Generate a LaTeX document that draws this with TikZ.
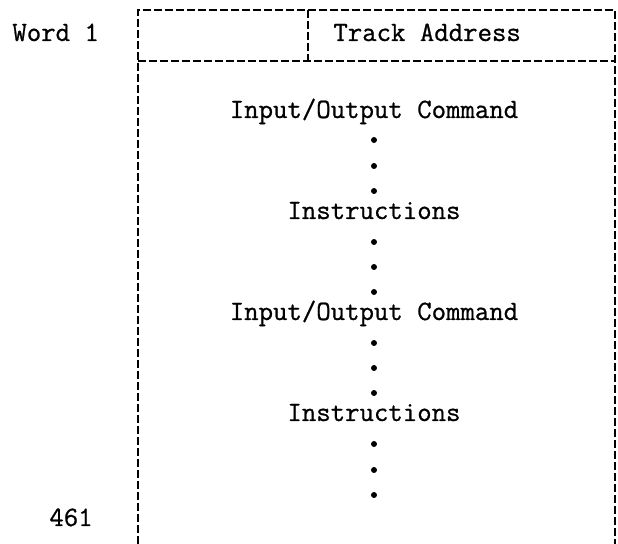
\documentclass[tikz,border=0pt]{standalone}
\usepackage{fontspec}
\setmonofont{Latin Modern Mono}[FakeBold=0.8]
\usepackage{tikz}

\begin{document}
\begin{tikzpicture}[
    x=0.5pt, y=-0.5pt,
    frame/.style={
      line width=1pt,
      dash pattern=on 4pt off 1.5pt,
    },
    entry/.style={
      font=\ttfamily\fontsize{14}{16}\selectfont,
      inner sep=0pt,
      anchor=base,
    },
    dot/.style={
      circle,
      fill=black,
      inner sep=0pt,
      minimum size=3pt,
    },
    ]
    \useasboundingbox (0,0) rectangle (618,544);

    % record outline, left open at the bottom
    \draw[frame] (138,544) -- (138,10) -- (615,10) -- (615,544);
    \draw[frame] (138,61) -- (615,61);
    \draw[frame] (308,10) -- (308,61);

    % first word
    \node[entry, anchor=base west] (word) at (12,41) {Word 1};
    \node[entry, anchor=base west] (track) at (333,41) {Track Address};

    % body of the record
    \node[entry] (io1) at (374,118) {Input/Output Command};
    \node[dot] (d1) at (374,140) {};
    \node[dot] (d2) at (374,166) {};
    \node[dot] (d3) at (374,191) {};
    \node[entry] (ins1) at (374,219) {Instructions};
    \node[dot] (d4) at (374,242) {};
    \node[dot] (d5) at (374,267) {};
    \node[dot] (d6) at (374,292) {};
    \node[entry] (io2) at (374,320) {Input/Output Command};
    \node[dot] (d7) at (374,343) {};
    \node[dot] (d8) at (374,368) {};
    \node[dot] (d9) at (374,393) {};
    \node[entry] (ins2) at (374,421) {Instructions};
    \node[dot] (d10) at (374,444) {};
    \node[dot] (d11) at (374,470) {};
    \node[dot] (d12) at (374,495) {};

    % last word
    \node[entry, anchor=base west] (last) at (49,526) {461};
\end{tikzpicture}
\end{document}
